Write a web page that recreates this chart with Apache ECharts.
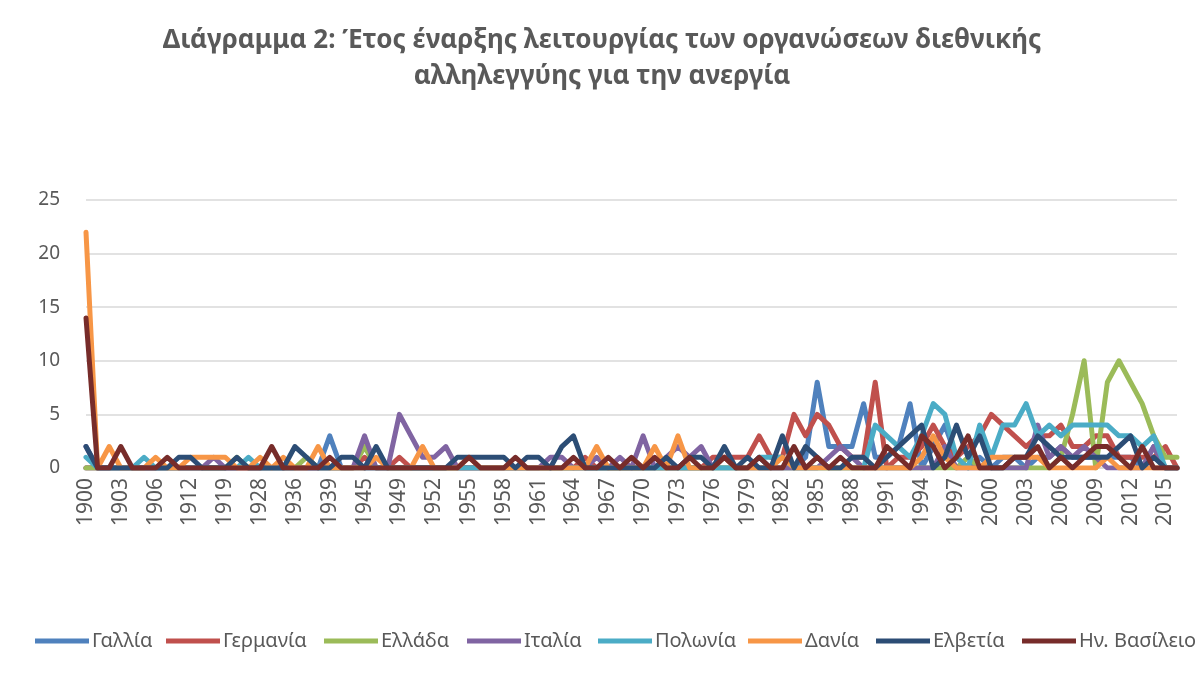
<!DOCTYPE html>
<html>
<head>
<meta charset="utf-8">
<script src="https://cdn.jsdelivr.net/npm/echarts@6/dist/echarts.min.js"></script>
<style>
html,body{margin:0;padding:0;background:#fff;}
#chart{width:1204px;height:679px;}
</style>
</head>
<body>
<div id="chart"></div>
<script>
// years on the category axis (not every year is present before 1949)
var years = ['1900','1901','1902','1903','1904','1905','1906','1908','1910','1912',
    '1914','1917','1919','1922','1925','1928','1931','1933','1936','1937',
    '1938','1939','1941','1943','1945','1946','1947','1949','1950','1951',
    '1952','1953','1954','1955','1956','1957','1958','1959','1960','1961',
    '1962','1963','1964','1965','1966','1967','1968','1969','1970','1971',
    '1972','1973','1974','1975','1976','1977','1978','1979','1980','1981',
    '1982','1983','1984','1985','1986','1987','1988','1989','1990','1991',
    '1992','1993','1994','1995','1996','1997','1998','1999','2000','2001',
    '2002','2003','2004','2005','2006','2007','2008','2009','2010','2011',
    '2012','2013','2014','2015','2016'];

var gallia = [0,0,0,0,0,0,0,0,0,0, 0,0,0,0,0,0,0,0,0,0, 0,3,0,0,0,0,0,0,0,0,
    0,0,0,0,0,0,0,0,0,0, 0,0,0,0,0,0,0,0,0,0, 0,0,0,0,0,0,0,0,1,0,
    0,0,1,8,2,2,2,6,1,1, 2,6,0,2,4,1,0,1,0,1, 1,0,1,1,2,1,1,1,1,1, 1,0,2,0,0];
var germania = [0,0,0,0,0,0,0,0,0,0, 0,0,0,0,0,0,0,0,0,0, 0,0,0,0,1,0,0,1,0,0,
    0,0,0,0,0,0,0,0,0,0, 0,0,0,1,0,0,0,0,0,0, 0,0,0,0,1,1,1,1,3,1,
    1,5,3,5,4,2,1,1,8,0, 1,1,2,4,2,1,2,3,5,4, 3,2,3,3,4,2,2,3,3,1, 1,1,1,2,0];
var ellada = [0,0,0,0,0,0,0,0,0,0, 0,0,0,1,0,0,0,0,0,1, 0,0,0,0,2,0,0,0,0,0,
    0,0,0,0,0,0,0,0,0,0, 0,0,0,0,0,0,0,0,0,0, 0,0,0,0,0,0,0,0,0,0,
    0,0,0,0,0,0,0,0,0,0, 0,0,0,0,0,0,1,0,0,0, 0,0,0,0,1,5,10,0,8,10, 8,6,3,1,1];
var italia = [2,0,0,0,0,0,0,0,0,0, 0,1,0,0,0,0,0,0,0,0, 0,0,0,0,3,0,0,5,3,1,
    1,2,0,0,0,0,0,0,0,0, 1,1,0,0,1,0,1,0,3,0, 1,2,1,2,0,1,0,0,0,0,
    0,0,0,0,1,2,1,0,0,0, 0,0,0,0,2,0,0,0,0,0, 0,0,4,1,2,1,2,1,0,0, 0,0,2,0,0];
var polonia = [1,0,0,0,0,1,0,0,0,0, 0,0,0,0,1,0,0,0,0,0, 0,0,0,0,0,0,0,0,0,0,
    0,0,0,0,0,0,0,0,0,0, 0,0,0,0,0,0,0,0,0,0, 0,0,0,0,0,0,0,0,1,1,
    1,0,0,0,0,0,0,0,4,3, 2,1,3,6,5,1,0,4,1,4, 4,6,3,4,3,4,4,4,4,3, 3,2,3,0,0];
var dania = [22,0,2,0,0,0,1,0,0,1, 1,1,1,0,0,1,0,1,0,0, 2,0,0,0,0,1,0,0,0,2,
    0,0,0,1,0,0,0,0,0,0, 0,0,0,0,2,0,0,0,0,2, 0,3,0,0,0,1,0,0,0,0,
    1,0,0,0,0,0,0,0,0,0, 0,0,1,3,1,0,0,0,1,1, 1,1,1,0,0,0,0,0,1,0, 0,0,0,0,0];
var elvetia = [2,0,0,0,0,0,0,0,1,1, 0,0,0,1,0,0,0,0,2,1, 0,0,1,1,0,2,0,0,0,0,
    0,0,1,1,1,1,1,0,1,1, 0,2,3,0,0,0,0,0,0,0, 1,0,1,1,0,2,0,1,0,0,
    3,0,2,1,0,0,1,1,0,1, 2,3,4,0,1,4,1,3,0,0, 1,1,3,2,1,1,1,1,1,2, 3,0,1,0,0];
var hnVasileio = [14,0,0,2,0,0,0,1,0,0, 0,0,0,0,0,0,2,0,0,0, 0,1,0,0,0,0,0,0,0,0,
    0,0,0,1,0,0,0,1,0,0, 0,0,1,0,0,1,0,1,0,1, 0,0,1,0,0,1,0,0,1,0,
    0,2,0,1,0,1,0,0,0,2, 1,0,3,2,0,1,3,0,0,0, 1,1,2,0,1,0,1,2,2,1, 0,2,0,0,0];

var names = ['Γαλλία','Γερμανία','Ελλάδα','Ιταλία','Πολωνία','Δανία','Ελβετία','Ην. Βασίλειο'];
var values = [gallia, germania, ellada, italia, polonia, dania, elvetia, hnVasileio];
var colors = ['#4F81BD','#C0504D','#9BBB59','#8064A2','#4BACC6','#F79646','#2C4D75','#772C2A'];
var yTicks = [0, 5, 10, 15, 20, 25];

var legendLeft = [35, 166, 324, 467, 598, 748, 876, 1022];
var txtColor = '#595959';
var fontName = '"Noto Sans", "DejaVu Sans", sans-serif';

var chart = echarts.init(document.getElementById('chart'), null, {renderer: 'canvas'});

var series = [];
var legends = [];
for (var i = 0; i < names.length; i++) {
    series.push({
        name: names[i],
        type: 'line',
        data: values[i],
        symbol: 'none',
        showSymbol: false,
        lineStyle: {width: 5, color: colors[i], cap: 'round', join: 'round'},
        itemStyle: {color: colors[i]}
    });
    legends.push({
        data: [names[i]],
        left: legendLeft[i],
        top: 629,
        icon: 'rect',
        itemWidth: 54,
        itemHeight: 5,
        itemGap: 0,
        padding: 0,
        selectedMode: false,
        textStyle: {color: txtColor, fontSize: 20, fontFamily: fontName, lineHeight: 24, padding: [0, 0, 0, -2]}
    });
}

var option = {
    animation: false,
    backgroundColor: '#fff',
    color: colors,
    title: {
        text: 'Διάγραμμα 2: Έτος έναρξης λειτουργίας των οργανώσεων διεθνικής\nαλληλεγγύης για την ανεργία',
        left: 'center',
        top: 18,
        textStyle: {
            color: txtColor,
            fontSize: 26,
            fontWeight: 'bold',
            fontFamily: fontName,
            lineHeight: 36,
            align: 'center'
        }
    },
    legend: legends,
    grid: {left: 86, right: 27, top: 200, bottom: 211, containLabel: false},
    xAxis: {
        type: 'category',
        data: years,
        boundaryGap: false,
        axisLine: {show: true, lineStyle: {color: '#D9D9D9', width: 1.5}},
        axisTick: {show: false},
        axisLabel: {
            interval: 2,
            rotate: 90,
            margin: 10,
            color: txtColor,
            fontSize: 21,
            fontFamily: fontName
        },
        splitLine: {show: false}
    },
    yAxis: {
        type: 'value',
        min: yTicks[0],
        max: yTicks[yTicks.length - 1],
        interval: yTicks[1] - yTicks[0],
        axisLine: {show: false},
        axisTick: {show: false},
        axisLabel: {color: txtColor, fontSize: 19, fontFamily: fontName, margin: 26},
        splitLine: {lineStyle: {color: '#D9D9D9', width: 1.5}}
    },
    series: series
};

chart.setOption(option);
</script>
</body>
</html>
